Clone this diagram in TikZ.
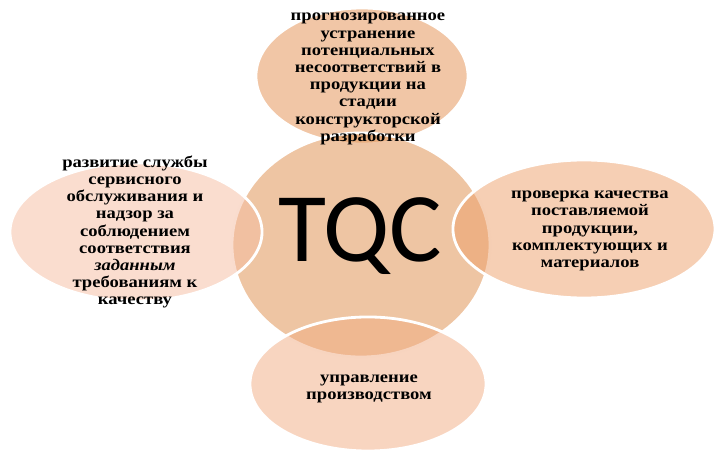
\documentclass[tikz,border=0pt]{standalone}
\usepackage{fontspec}
\setmainfont{Liberation Serif}
\newfontfamily\rufont[FakeStretch=1.15]{Liberation Serif}
\newfontfamily\tqcfont{Carlito}
\usetikzlibrary{shapes.geometric}

\definecolor{topfill}{RGB}{241,198,166}
\definecolor{corefill}{RGB}{227,158,102}
\definecolor{leftfill}{RGB}{245,187,159}
\definecolor{rightfill}{RGB}{237,159,105}
\definecolor{botfill}{RGB}{241,171,129}

\begin{document}
\begin{tikzpicture}[
        x=0.025cm, y=-0.025cm,
        blob/.style={ellipse, draw=white, line width=2pt, inner sep=0pt},
        blobtext/.style={align=center, inner sep=0pt, font=\rufont\bfseries\fontsize{11.5}{12.25}\selectfont}
      ]
      \useasboundingbox (0,0) rectangle (719,452);

      % shapes, back to front
      \node[blob, fill=topfill, minimum width=5.3cm, minimum height=3.4cm] (top) at (362,76) {};
      \node[blob, fill=corefill, fill opacity=0.6, minimum width=6.45cm, minimum height=5.6cm] (core) at (361,245) {};
      \node[blob, fill=leftfill, fill opacity=0.5, minimum width=6.3cm, minimum height=3.45cm] (left) at (136,232) {};
      \node[blob, fill=rightfill, fill opacity=0.5, minimum width=6.55cm, minimum height=3.45cm] (right) at (584,229) {};
      \node[blob, fill=botfill, fill opacity=0.5, minimum width=5.9cm, minimum height=3.35cm] (bottom) at (368,384) {};

      % texts
      \node[anchor=base, font=\tqcfont\fontsize{70}{70}\selectfont] (tqc) at (360,262) {TQC};
      \node[blobtext] (toptext) at (368,79) {прогнозированное\\устранение\\потенциальных\\несоответствий в\\продукции на\\стадии\\конструкторской\\разработки};
      \node[blobtext] (lefttext) at (135,232) {развитие службы\\сервисного\\обслуживания и\\надзор за\\соблюдением\\соответствия\\\textit{заданным}\\требованиям к\\качеству};
      \node[blobtext] (righttext) at (590,231) {проверка качества\\поставляемой\\продукции,\\комплектующих и\\материалов};
      \node[blobtext] (bottext) at (369,389) {управление\\производством};
    \end{tikzpicture}
\end{document}
